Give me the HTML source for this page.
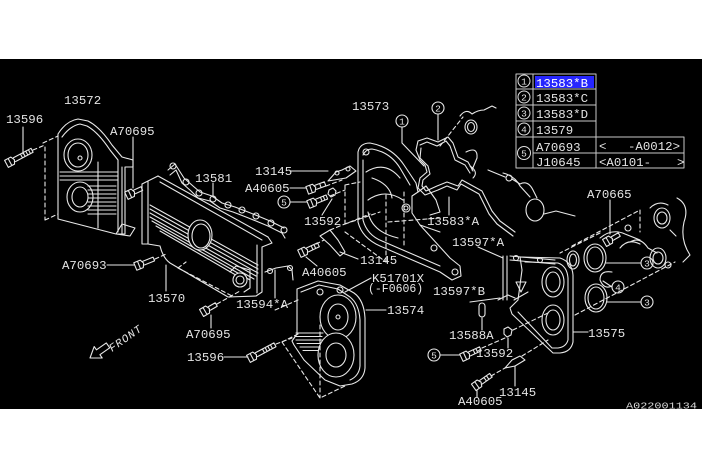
<!DOCTYPE html>
<html><head><meta charset="utf-8">
<style>
html,body{margin:0;padding:0;background:#fff;}
svg{display:block}
text{font-family:"Liberation Mono",monospace;fill:#e4e4e4;font-size:12.4px}
</style></head><body>
<svg width="702" height="468" viewBox="0 0 702 468" xmlns="http://www.w3.org/2000/svg">
<rect x="0" y="0" width="702" height="468" fill="#fff"/>
<rect x="0" y="59" width="702" height="350" fill="#000"/>

<g fill="none" stroke="#e8e8e8" stroke-width="1.1" stroke-linejoin="round" stroke-linecap="round">
<!-- ===== 13572 top-left cover ===== -->
<path d="M58,134 Q66,121 78,119 L88,121 Q100,127 112,145 L122,157 L133,160 L133,167 L125,167 L125,234 L116,234 L58,219 Z"/>
<path d="M62,137 Q70,126 80,124 L87,126 Q98,132 110,150 L118,160 L118,232"/>
<line x1="122" y1="167" x2="122" y2="234"/>
<ellipse cx="78" cy="155" rx="14" ry="16"/>
<ellipse cx="78" cy="155" rx="10" ry="12"/>
<circle cx="80" cy="158" r="2"/>
<ellipse cx="80" cy="197" rx="13" ry="15"/>
<ellipse cx="80" cy="197" rx="8" ry="10"/>
<path d="M88,186H116M88,190H116M88,194H116M88,198H116M88,202H116M88,206H116M88,210H116M88,214H116"/>
<path d="M60,172H118M60,176H118M60,180H118"/>
<line x1="98" y1="162" x2="98" y2="228"/>
<path d="M116,234 L122,224 L135,228 L130,236 Z"/>
<path stroke-dasharray="4,3" d="M45,147V220 M43,143 L58,136 M45,220 L58,214 M33,150 L45,145"/>
<!-- bolt 13596 top -->
<g transform="translate(10,162) rotate(-28)"><path d="M-4,-4H3L5,0L3,4H-4Z M0,-4V4 M5,-2.2H25V2.2H5 M13,-2.2V2.2M16,-2.2V2.2M19,-2.2V2.2M22,-2.2V2.2"/></g>
<line x1="23" y1="127" x2="23" y2="154"/>
<!-- A70695 top -->
<line x1="133" y1="137" x2="133" y2="188"/>
<g transform="translate(130,194) rotate(-25)"><path d="M-4,-4H3L5,0L3,4H-4Z M0,-4V4 M5,-2H13V2H5"/></g>

<!-- ===== 13570 belt cover ===== -->
<path d="M142,184 L158,176 M142,184 V244 H148 V181 M148,244 L160,246"/>
<path d="M158,176 L268,237 M160,182 L262,240"/>
<path d="M268,237 L272,243 L262,247 V292 L256,296 M257,245 V293"/>
<path d="M160,246 Q163,258 170,263 L228,297 L256,296"/>
<path d="M150,205L258,265M150,209L258,269M150,213L258,273M150,217L256,276M152,221L254,279M156,226L250,280M160,231L246,281"/>
<ellipse cx="200" cy="235" rx="12" ry="15" fill="#000"/>
<ellipse cx="201" cy="236" rx="9" ry="12"/>
<circle cx="240" cy="280" r="7" fill="#000"/>
<circle cx="240" cy="280" r="4"/>
<path d="M230,272 L236,266 L250,270 L250,288 L244,292"/>
<!-- 13581 bolt chain -->
<path d="M168,170 L175,164 L184,178 L193,186 L200,192 L212,196 L222,203 L235,207 L248,212 L258,216 L270,221 L284,228"/>
<path d="M170,175 L176,170 L182,183 L191,191 L198,198 L210,201 L220,208 L233,212 L246,217 L256,221 L268,226 L282,233 L285,238"/>
<circle cx="173" cy="166" r="3"/><circle cx="186" cy="182" r="3"/><circle cx="199" cy="193" r="3"/>
<circle cx="213" cy="199" r="3"/><circle cx="228" cy="205" r="3"/><circle cx="242" cy="210" r="3"/>
<circle cx="256" cy="216" r="3"/><circle cx="271" cy="223" r="3"/><circle cx="284" cy="230" r="3"/>
<line x1="213" y1="183" x2="213" y2="197"/>
<!-- 13594*A -->
<path d="M265,272 L276,268 L288,266 L292,270 L293,280"/>
<circle cx="270" cy="271" r="2.5"/><circle cx="290" cy="268" r="2.5"/>
<line x1="275" y1="270" x2="275" y2="298"/>
<!-- 13570 leader, A70693, A70695, 13596 lower -->
<line x1="166" y1="265" x2="166" y2="291"/>
<line x1="107" y1="265" x2="134" y2="265"/>
<g transform="translate(139,265) rotate(-22)"><path d="M-4,-4H3L5,0L3,4H-4Z M0,-4V4 M5,-2H16V2H5"/></g>
<path stroke-dasharray="4,3" d="M155,259 L166,254 M178,268 L186,262 M178,268 L232,296"/>
<g transform="translate(205,311) rotate(-30)"><path d="M-4,-4H3L5,0L3,4H-4Z M0,-4V4 M5,-2H13V2H5"/></g>
<line x1="211" y1="315" x2="211" y2="328"/>
<path stroke-dasharray="4,3" d="M217,304 L240,291"/>
<line x1="224" y1="357" x2="248" y2="357"/>
<g transform="translate(252,357) rotate(-28)"><path d="M-4,-4H3L5,0L3,4H-4Z M0,-4V4 M5,-2.2H26V2.2H5 M13,-2.2V2.2M16,-2.2V2.2M19,-2.2V2.2M22,-2.2V2.2"/></g>
<path stroke-dasharray="4,3" d="M276,344 L292,338"/>

<!-- ===== 13573 center cover ===== -->
<path d="M358,152 Q360,143 370,143 Q392,147 404,165 L416,183 L418,192 L412,196 L412,213 L420,225 L450,258 L460,266 L461,276 L452,280 L440,272 L380,246 Q362,238 358,222 Z"/>
<path d="M363,155 Q366,149 372,149 Q390,152 400,168 L410,185 M363,160 V220 Q367,235 382,241 L440,266"/>
<path d="M366,172 Q385,160 400,178 M368,200 Q385,188 403,200 M368,212 Q372,232 398,238 M372,178 Q390,184 392,198"/>
<path d="M418,192 L426,186 L436,200 L440,212 L430,215 M420,225 L440,232"/>
<path stroke-dasharray="4,3" d="M345,185 V224 M345,185 L360,182 M345,224 L380,212 M386,195 V262 M404,192 V248 M345,232 L386,262 M388,222 L440,218"/>
<circle cx="406" cy="208" r="4"/><circle cx="406" cy="208" r="2"/>
<circle cx="366" cy="152" r="3"/><circle cx="434" cy="248" r="3"/><circle cx="455" cy="272" r="3"/>
<!-- 13145 top bracket, A40605, 5, 13592 -->
<path d="M328,181 L336,172 L342,170 L350,166 L356,171 L346,178 Z"/>
<circle cx="337" cy="173" r="2"/><circle cx="348" cy="169" r="2"/>
<line x1="290" y1="171" x2="328" y2="171"/>
<line x1="290" y1="188" x2="306" y2="188"/>
<g transform="translate(311,189) rotate(-20)"><path d="M-4,-4H3L5,0L3,4H-4Z M0,-4V4 M5,-2.2H15V2.2H5 M10,-2.2V2.2"/></g>
<line x1="290" y1="202" x2="307" y2="202"/>
<g transform="translate(312,203) rotate(-22)"><path d="M-4,-4H3L5,0L3,4H-4Z M0,-4V4 M5,-2.2H16V2.2H5 M10,-2.2V2.2M13,-2.2V2.2"/></g>
<path d="M329,190 L333,188 L336,191 L335,195 L331,197 L328,194 Z"/>
<line x1="322" y1="215" x2="332" y2="199"/>
<path stroke-dasharray="4,3" d="M326,186 L342,180 M330,196 L345,190"/>
<!-- 13145 mid bracket, A40605 mid -->
<path d="M320,236 L330,230 L338,240 L345,252 L340,256 L330,245 Z"/>
<line x1="358" y1="259" x2="340" y2="252"/>
<path stroke-dasharray="4,3" d="M330,230 L370,214 M316,244 L324,240"/>
<g transform="translate(303,252) rotate(-25)"><path d="M-4,-4H3L5,0L3,4H-4Z M0,-4V4 M5,-2.2H17V2.2H5 M10,-2.2V2.2M13,-2.2V2.2"/></g>
<line x1="306" y1="257" x2="317" y2="266"/>
<!-- K51701X -->
<line x1="371" y1="278" x2="345" y2="292"/>

<!-- ===== 13583*A gasket & top right bits ===== -->
<path d="M418,141 L427,138 L438,142 L448,137 L453,143 L458,157 L468,162 L473,171"/>
<path d="M420,145 L427,142 L437,146 L446,141 L450,146 L455,160 L465,165 L470,173"/>
<path d="M418,141 L416,150 L420,160 L425,165 L427,172 L420,178 L418,188 L425,195 L438,190 L447,186 L457,190 L461,184 L479,194 L489,214 L497,224 L513,236"/>
<path d="M421,148 L420,158 L428,166 L430,174 L423,180 L422,186 L426,191 L437,186 L447,182 L458,186 L462,180 L482,191 L492,211 L500,221 L515,232"/>
<line x1="449" y1="197" x2="449" y2="215"/>
<path d="M402,127 V143 L424,166"/>
<path d="M438,114 V140"/>
<ellipse cx="471" cy="127" rx="6" ry="7"/>
<ellipse cx="471" cy="127" rx="3.5" ry="4.5"/>
<path stroke-dasharray="4,3" d="M440,146 L463,117"/>
<path d="M460,116 Q466,108 472,114 Q478,110 484,110 L492,106 L496,108"/>
<path d="M466,152 Q478,146 477,158 L472,170 M470,166 Q479,172 473,178"/>
<circle cx="509" cy="178" r="3"/>
<path d="M488,170 L505,177 M512,179 L520,184 Q528,180 533,190 L537,198"/>
<ellipse cx="535" cy="210" rx="9" ry="11"/>
<path d="M544,214 L556,211 L575,216"/>
<path d="M503,173 Q515,176 520,186 L530,197"/>

<!-- ===== 13574 lower cover ===== -->
<path d="M297,289 L318,281 L340,285 L354,293 Q364,300 365,318 L365,368 Q364,380 352,384 L340,386 L325,380 L304,360 L294,345 L292,341 L297,334 Z"/>
<path d="M301,292 L319,285 L338,289 L350,297 Q359,304 360,320 L360,366 Q359,376 350,380"/>
<ellipse cx="338" cy="317" rx="18" ry="22" fill="#000"/>
<ellipse cx="338" cy="317" rx="10" ry="13"/>
<circle cx="338" cy="317" r="2"/>
<path d="M296,333H323M296,336.5H322M296,340H322M297,343.5H322M300,347H322M303,350.5H322"/>
<ellipse cx="336" cy="355" rx="18" ry="22" fill="#000"/>
<ellipse cx="336" cy="355" rx="10" ry="12"/>
<path stroke-dasharray="4,3" d="M282,342 L320,398 L347,385 M320,325 V398 M282,342 L298,334 M298,300 L275,310"/>
<circle cx="320" cy="292" r="3"/><circle cx="340" cy="290" r="3"/>
<line x1="366" y1="310" x2="386" y2="310"/>

<!-- ===== 13575 right cover ===== -->
<path d="M520,257 L560,258 Q572,262 573,275 L573,342 Q571,352 560,353 L553,353 L512,314 L510,308 L518,300 L522,270 Z"/>
<path d="M525,262 L558,263 Q567,266 568,278 L568,340 Q566,347 558,348 L552,348 L518,312"/>
<ellipse cx="553" cy="282" rx="11" ry="15" fill="#000"/>
<ellipse cx="553" cy="282" rx="7" ry="10"/>
<ellipse cx="553" cy="320" rx="11" ry="15" fill="#000"/>
<ellipse cx="553" cy="320" rx="7" ry="10"/>
<line x1="573" y1="332" x2="588" y2="332"/>
<path d="M510,256 L555,260 M510,260 L555,264"/>
<circle cx="516" cy="258" r="2.5"/><circle cx="540" cy="260" r="2.5"/>
<path d="M516,282 L521,292 L526,282 Z M514,300 L528,292"/>
<path d="M503,256 V300 M507,256 V300"/>
<line x1="478" y1="247" x2="503" y2="258"/>
<path d="M470,302 L500,298 M498,300 L508,295 L515,298"/>
<rect x="479" y="303" width="6" height="14" rx="3"/>
<line x1="482" y1="318" x2="482" y2="330"/>
<path d="M504,329 L508,327 L512,330 L511,335 L507,337 L504,334 Z"/>
<line x1="508" y1="338" x2="508" y2="348"/>
<path stroke-dasharray="4,3" d="M513,330 L550,312"/>
<line x1="440" y1="355" x2="460" y2="355"/>
<g transform="translate(465,356) rotate(-25)"><path d="M-4,-4H3L5,0L3,4H-4Z M0,-4V4 M5,-2.2H17V2.2H5 M10,-2.2V2.2M13,-2.2V2.2"/></g>
<path stroke-dasharray="4,3" d="M482,348 L505,338"/>
<path d="M505,368 L512,360 L520,356 L525,360 L515,366 Z"/>
<line x1="515" y1="366" x2="515" y2="386"/>
<path stroke-dasharray="4,3" d="M522,356 L548,340"/>
<g transform="translate(477,385) rotate(-35)"><path d="M-4,-4H3L5,0L3,4H-4Z M0,-4V4 M5,-2.2H17V2.2H5 M10,-2.2V2.2M13,-2.2V2.2"/></g>
<line x1="477" y1="390" x2="477" y2="397"/>
<path stroke-dasharray="4,3" d="M491,376 L505,368"/>

<!-- ===== right seals / A70665 ===== -->
<line x1="610" y1="200" x2="610" y2="234"/>
<g transform="translate(608,241) rotate(-30)"><path d="M-4,-4H3L5,0L3,4H-4Z M0,-4V4 M5,-2H13V2H5"/></g>
<path stroke-dasharray="4,3" d="M572,246 L640,210 V232 M575,315 L675,262 M600,233 L560,253"/>
<ellipse cx="573" cy="260" rx="6" ry="9"/>
<ellipse cx="573" cy="260" rx="3.5" ry="6"/>
<ellipse cx="595" cy="258" rx="11" ry="14"/>
<ellipse cx="595" cy="258" rx="8" ry="11"/>
<line x1="606" y1="263" x2="641" y2="263"/>
<line x1="603" y1="281" x2="612" y2="287"/>
<ellipse cx="596" cy="298" rx="11" ry="14"/>
<ellipse cx="596" cy="298" rx="8" ry="11"/>
<line x1="607" y1="302" x2="641" y2="302"/>
<path d="M612,272 Q600,270 600,280 Q604,290 612,286"/>
<ellipse cx="662" cy="218" rx="8" ry="10"/>
<ellipse cx="662" cy="218" rx="5" ry="6"/>
<ellipse cx="658" cy="258" rx="8" ry="10"/>
<ellipse cx="658" cy="258" rx="5" ry="6"/>
<path d="M677,198 Q690,205 684,222 Q680,240 690,255 L683,262"/>
<path d="M630,242 Q640,236 648,248 L657,253 M620,248 Q628,238 640,244"/>
<path d="M650,208 Q658,200 668,205 M670,230 L676,236"/>
<path d="M600,238 Q612,228 625,234 L640,240"/>
<circle cx="628" cy="228" r="3"/><circle cx="668" cy="265" r="3"/>

<!-- ===== circled numbers (diagram) ===== -->
<circle cx="402" cy="121" r="6"/>
<circle cx="438" cy="108" r="6"/>
<circle cx="284" cy="202" r="6"/>
<circle cx="434" cy="355" r="6"/>
<circle cx="647" cy="263" r="6"/>
<circle cx="618" cy="287" r="6"/>
<circle cx="647" cy="302" r="6"/>

<!-- FRONT arrow -->
<g transform="translate(90,358) rotate(-35)"><path d="M0,0 L10,-7 L10,-3 L22,-3 L22,3 L10,3 L10,7 Z"/></g>

<!-- ===== table ===== -->
<g stroke="#c8c8c8" stroke-width="1">
<rect x="516" y="74" width="80" height="63"/>
<rect x="516" y="137" width="168" height="31"/>
<line x1="516" y1="89" x2="596" y2="89"/>
<line x1="516" y1="105" x2="596" y2="105"/>
<line x1="516" y1="121" x2="596" y2="121"/>
<line x1="533" y1="153" x2="684" y2="153"/>
<line x1="533" y1="74" x2="533" y2="168"/>
<line x1="596" y1="137" x2="596" y2="168"/>
</g>
<g stroke="#e0e0e0" stroke-width="1">
<circle cx="524" cy="81" r="6"/>
<circle cx="524" cy="97" r="6"/>
<circle cx="524" cy="113" r="6"/>
<circle cx="524" cy="129" r="6"/>
<circle cx="524" cy="153" r="6.5"/>
</g>
</g>

<rect x="535" y="76" width="59" height="12" fill="#2626ff"/>

<g font-size="9.5" text-anchor="middle" style="font-size:9.5px">
<text x="402" y="124.5" style="font-size:9.5px">1</text>
<text x="438" y="111.5" style="font-size:9.5px">2</text>
<text x="284" y="205.5" style="font-size:9.5px">5</text>
<text x="434" y="358.5" style="font-size:9.5px">5</text>
<text x="647" y="266.5" style="font-size:9.5px">3</text>
<text x="618" y="290.5" style="font-size:9.5px">4</text>
<text x="647" y="305.5" style="font-size:9.5px">3</text>
<text x="524" y="84.5" style="font-size:9.5px">1</text>
<text x="524" y="100.5" style="font-size:9.5px">2</text>
<text x="524" y="116.5" style="font-size:9.5px">3</text>
<text x="524" y="132.5" style="font-size:9.5px">4</text>
<text x="524" y="156.5" style="font-size:9.5px">5</text>
</g>

<!-- table text -->
<text x="536" y="87" style="fill:#fff">13583*B</text>
<text x="536" y="102">13583*C</text>
<text x="536" y="118">13583*D</text>
<text x="536" y="134">13579</text>
<text x="536" y="151">A70693</text>
<text x="536" y="166">J10645</text>
<text x="599" y="150">&lt;</text>
<text x="628" y="150">-A0012&gt;</text>
<text x="599" y="166">&lt;A0101-</text>
<text x="677" y="166">&gt;</text>

<!-- labels -->
<text x="64" y="104">13572</text>
<text x="6" y="123">13596</text>
<text x="110" y="135">A70695</text>
<text x="195" y="182">13581</text>
<text x="255" y="175">13145</text>
<text x="245" y="192">A40605</text>
<text x="304" y="225">13592</text>
<text x="352" y="110">13573</text>
<text x="427" y="225">13583*A</text>
<text x="452" y="246">13597*A</text>
<text x="360" y="264">13145</text>
<text x="302" y="276">A40605</text>
<text x="372" y="282">K51701X</text>
<text x="368" y="292" style="font-size:11.5px">(-F0606)</text>
<text x="387" y="314">13574</text>
<text x="433" y="295">13597*B</text>
<text x="449" y="339">13588A</text>
<text x="476" y="357">13592</text>
<text x="458" y="405">A40605</text>
<text x="499" y="396">13145</text>
<text x="588" y="337">13575</text>
<text x="587" y="198">A70665</text>
<text x="62" y="269">A70693</text>
<text x="148" y="302">13570</text>
<text x="186" y="338">A70695</text>
<text x="236" y="308">13594*A</text>
<text x="187" y="361">13596</text>
<text x="112" y="352" transform="rotate(-35 112 352)" style="font-size:11px;letter-spacing:1px;font-style:italic">FRONT</text>
<text x="626" y="408.5" textLength="71" lengthAdjust="spacingAndGlyphs" style="font-size:9.5px;fill:#d8d8d8">A022001134</text>
</svg>
</body></html>
